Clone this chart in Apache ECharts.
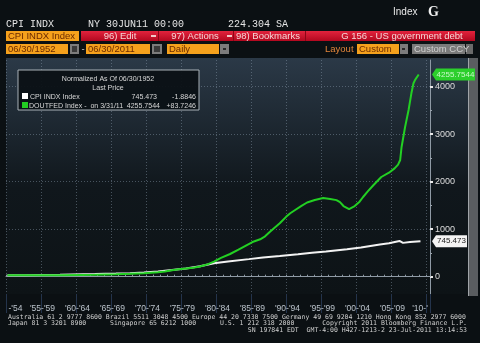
<!DOCTYPE html>
<html><head><meta charset="utf-8">
<script src="https://cdn.jsdelivr.net/npm/echarts@6/dist/echarts.min.js"></script>
<style>html,body{margin:0;padding:0;background:#0b1013;}#c{width:480px;height:343px;}</style>
</head><body><div id="c"></div>
<script>
// ---- data ----
const cpiYears  = [1952.5,1955,1960,1965,1968,1970,1972,1974,1976,1978,1980,1982,1984,1987,1989,1991.4,1994,1996,1998,2001,2003,2005.7,2007,2008.5,2009.0,2010,2011.5];
const cpiValues = [32,33,42,55,65,75,88,110,140,175,220,282,320,370,405,436,472,502,530,580,615,680,705,752,712,730,745.473];
const debtYears  = [1952.5,1955,1958,1960,1963,1965,1968,1970,1972,1974,1975,1976,1977,1978,1979,1980,1981,1982,1983,1984.3,1985.5,1986.7,1987.5,1988.6,1989.3,1990,1991.4,1992.3,1992.9,1993.6,1994.5,1995.3,1996.4,1997.6,1998.6,1999.5,2000.0,2000.5,2001.3,2002.1,2002.8,2003.3,2004.0,2004.8,2005.9,2007.0,2007.8,2008.3,2008.6,2008.8,2009.3,2009.8,2010.2,2010.5,2010.75,2011.0,2011.25];
const debtValues = [32,32,33,33,38,42,50,60,75,92,110,135,156,175,190,215,255,316,395,478,570,667,730,787,850,947,1124,1260,1335,1404,1490,1562,1615,1657,1636,1612,1570,1488,1425,1488,1580,1678,1800,1931,2099,2190,2280,2360,2457,2731,3152,3509,3861,4072,4150,4190,4255.7544];
const xTickLabels = ["-'54","'55-'59","'60-'64","'65-'69","'70-'74","'75-'79","'80-'84","'85-'89","'90-'94","'95-'99","'00-'04","'05-'09","'10-'"];
const xBinStarts = [1950,1955,1960,1965,1970,1975,1980,1985,1990,1995,2000,2005,2010];
const yTickValues = [0,1000,2000,3000,4000];
const cpiLast = 745.473, debtLast = 4255.7544;

// ---- layout ----
const XMIN = 1952.29, XMAX = 2012.86;
const GL = 6, GR = 50;
const binCenters = xBinStarts.map((s,i)=>{const a=Math.max(s,XMIN), b=Math.min(s+5,XMAX); return (a+b)/2;});

function pts(xs, ys){ return xs.map((x,i)=>[x, ys[i]]); }

const G = [];
function rect(x,y,w,h,fill,stroke,z){ G.push({type:'rect',z:(z===undefined?100:z),shape:{x:x,y:y,width:w,height:h},style:{fill:fill,stroke:stroke||null,lineWidth:stroke?1:0}}); }
function txt(x,y,s,font,color,align,sx){ G.push({type:'text',z:102,x:x,y:y,scaleX:sx||1,style:{text:s,font:font,fill:color,textAlign:align||'left',align:align||'left',textVerticalAlign:'middle',verticalAlign:'middle'}}); }
function vgrad(c0,c1){ return new echarts.graphic.LinearGradient(0,0,0,1,[{offset:0,color:c0},{offset:1,color:c1}]); }

// plot background
G.push({type:'rect',z:-10,shape:{x:6,y:58,width:462,height:236},style:{fill:new echarts.graphic.LinearGradient(0,0,0,1,[{offset:0,color:'#2b3947'},{offset:0.55,color:'#10171c'},{offset:1,color:'#0d1316'}])}});
// scrollbar at right (below the value tags)
rect(468,58,10,238,'#5a5d60',null,-5); rect(468,58,1,238,'#a0a4a8',null,-4);

// header line
const MONO = '10px "Liberation Mono", "DejaVu Sans Mono", monospace';
txt(6,24,'CPI INDX',MONO,'#e4e4e4');
txt(88,24,'NY 30JUN11 00:00',MONO,'#e4e4e4');
txt(228,24,'224.304 SA',MONO,'#e4e4e4');
txt(393,12,'Index','10px "Liberation Sans", Arial, sans-serif','#e8e8e8');
txt(428,12,'G','bold 14px "Liberation Serif", serif','#f0f0f0');

// row 2
const SANS = '9.5px "Liberation Sans", Arial, sans-serif';
rect(6,31,73,10,'#f5a11c');
txt(8,36,'CPI INDX Index',SANS,'#6a2a00');
rect(81,31,394,10,vgrad('#e2233d','#b3081f'));
[158,233,305].forEach(x=>rect(x,31,1,10,'#8c0616',null,101));
txt(120,36,'96) Edit',SANS,'#f6d6d6','center');
rect(151,35,5,2,'#f0c8c8',null,101);
txt(195,36,'97) Actions',SANS,'#f6d6d6','center');
rect(227,35,5,2,'#f0c8c8',null,101);
txt(236,36,'98) Bookmarks',SANS,'#f6d6d6');
txt(402,36,'G 156 - US government debt',SANS,'#f6d6d6','center');

// row 3
rect(6,44,62,10,'#f5a11c'); txt(8,49,'06/30/1952',SANS,'#6a2a00');
rect(70,44,9,10,'#7c7c7c'); rect(72,46,5,6,'#3a3a3a',null,101);
txt(83,49,'-',SANS,'#d0d0d0','center');
rect(86,44,64,10,'#f5a11c'); txt(88,49,'06/30/2011',SANS,'#6a2a00');
rect(152,44,10,10,'#7c7c7c'); rect(154,46,6,6,'#3a3a3a',null,101);
rect(167,44,52,10,'#f5a11c'); txt(169,49,'Daily',SANS,'#6a2a00');
rect(220,44,9,10,'#7c7c7c'); rect(223,48,3,2,'#2a2a2a',null,101);
txt(325,49,'Layout',SANS,'#e0843a');
rect(357,44,42,10,'#f5a11c'); txt(359,49,'Custom',SANS,'#6a2a00');
rect(400,44,8,10,'#7c7c7c'); rect(402,48,3,2,'#2a2a2a',null,101);
rect(412,44,53,10,'#7a7a7a'); txt(414,49,'Custom CCY',SANS,'#cfcfcf');
rect(466,44,7,10,'#6a6a6a');

// legend box
rect(18,70,181,40,'rgba(11,17,21,0.95)','#a9b1b8',100);
const LF = '8px "Liberation Sans", Arial, sans-serif';
const SX = 0.88;
txt(108,79,'Normalized As Of 06/30/1952',LF,'#d8d8d8','center',SX);
txt(108,88,'Last Price',LF,'#d8d8d8','center',SX);
rect(22,93,6,6,'#ffffff',null,101);
rect(22,102,6,6,'#22cc22',null,101);
txt(30,96.5,'CPI INDX Index',LF,'#d8d8d8','left',SX);
txt(157,96.5,String(cpiLast),LF,'#d8d8d8','right',SX);
txt(196,96.5,'-1.8846',LF,'#d8d8d8','right',SX);
txt(29,105.5,'DOUTFED Index -  on 3/31/11',LF,'#d8d8d8','left',SX);
txt(160,105.5,String(debtLast),LF,'#d8d8d8','right',SX);
txt(196,105.5,'+83.7246',LF,'#d8d8d8','right',SX);

// footer
const FF = '6.5px "DejaVu Sans Mono", "Liberation Mono", monospace';
txt(8,317,'Australia 61 2 9777 8600 Brazil 5511 3048 4500 Europe 44 20 7330 7500 Germany 49 69 9204 1210 Hong Kong 852 2977 6000',FF,'#cfcfcf');
txt(8,323.5,'Japan 81 3 3201 8900',FF,'#cfcfcf');
txt(110,323.5,'Singapore 65 6212 1000',FF,'#cfcfcf');
txt(220,323.5,'U.S. 1 212 318 2000',FF,'#cfcfcf');
txt(467,323.5,'Copyright 2011 Bloomberg Finance L.P.',FF,'#cfcfcf','right');
txt(467,330.5,'SN 197841 EDT  GMT-4:00 H427-1213-2 23-Jul-2011 13:14:53',FF,'#cfcfcf','right');

const dotted = {show:true,lineStyle:{color:'rgba(140,158,176,0.45)',type:[1,2],width:1}};

function tagPath(w){ return 'path://M0,6L4,0L'+w+',0L'+w+',12L4,12Z'; }

const option = {
  backgroundColor:'#0b1013',
  animation:false,
  graphic: G,
  grid:[
    {left:GL,right:GR,top:60,bottom:49,containLabel:false},
    {left:GL,right:GR,top:86.7,bottom:66.3,containLabel:false}
  ],
  xAxis:[
    {gridIndex:0,type:'value',min:XMIN,max:XMAX,interval:1,
      axisLine:{show:true,lineStyle:{color:'#8f9aa5',width:1}},
      axisTick:{show:true,inside:true,length:2,lineStyle:{color:'#8f9aa5'}},
      axisLabel:{show:false},splitLine:{show:false}},
    {gridIndex:0,type:'value',min:XMIN,max:XMAX,interval:5,position:'bottom',
      axisLine:{show:false},
      axisTick:{show:true,inside:false,length:19,lineStyle:{color:'#24344c',width:1}},
      axisLabel:{show:true,customValues:binCenters,margin:10,color:'#bcc4cc',fontSize:8.5,fontFamily:'"Liberation Sans", Arial, sans-serif',
        formatter:function(v){const i=binCenters.indexOf(v);return i>=0?xTickLabels[i]:'';}},
      splitLine:dotted},
    {gridIndex:1,type:'value',min:XMIN,max:XMAX,show:false}
  ],
  yAxis:[
    {gridIndex:0,type:'value',min:-364.2,max:4562.1,position:'right',
      axisLine:{show:true,lineStyle:{color:'#8f9aa5',width:1}},
      axisTick:{show:false},axisLabel:{show:false},splitLine:{show:false}},
    {gridIndex:1,type:'value',min:0,max:4000,interval:1000,position:'right',
      axisLine:{show:false},
      axisTick:{show:true,length:3,lineStyle:{color:'#e8e8e8',width:2}},
      minorTick:{show:true,splitNumber:2,length:2,lineStyle:{color:'#9aa4ae',width:1}},
      axisLabel:{show:true,margin:5,color:'#dcdcdc',fontSize:9,fontFamily:'"Liberation Sans", Arial, sans-serif',
        customValues:yTickValues,formatter:function(v){return String(v);}},
      splitLine:dotted}
  ],
  series:[
    {type:'line',name:'CPI INDX Index',xAxisIndex:0,yAxisIndex:0,data:pts(cpiYears,cpiValues),
      showSymbol:false,z:3,lineStyle:{color:'#f2f2f2',width:2},
      markPoint:{symbol:tagPath(35),symbolSize:[35,12],symbolKeepAspect:false,symbolOffset:[19.5,0],
        itemStyle:{color:'#f4f4f4'},
        label:{show:true,position:'inside',offset:[2,0],color:'#1a1a1a',fontSize:8,fontFamily:'"Liberation Sans", Arial, sans-serif',formatter:String(cpiLast)},
        data:[{coord:[XMAX,cpiLast]}]}},
    {type:'line',name:'DOUTFED Index',xAxisIndex:0,yAxisIndex:0,data:pts(debtYears,debtValues),
      showSymbol:false,z:4,lineStyle:{color:'#23d023',width:2},
      markPoint:{symbol:tagPath(43),symbolSize:[43,12],symbolKeepAspect:false,symbolOffset:[23.5,0],
        itemStyle:{color:'#2ccf2c'},
        label:{show:true,position:'inside',offset:[2,0],color:'#c8f8c8',fontSize:8,fontFamily:'"Liberation Sans", Arial, sans-serif',formatter:String(debtLast)},
        data:[{coord:[XMAX,debtLast]}]}}
  ]
};
const chart = echarts.init(document.getElementById('c'),null,{renderer:'canvas'});
chart.setOption(option);
</script></body></html>
